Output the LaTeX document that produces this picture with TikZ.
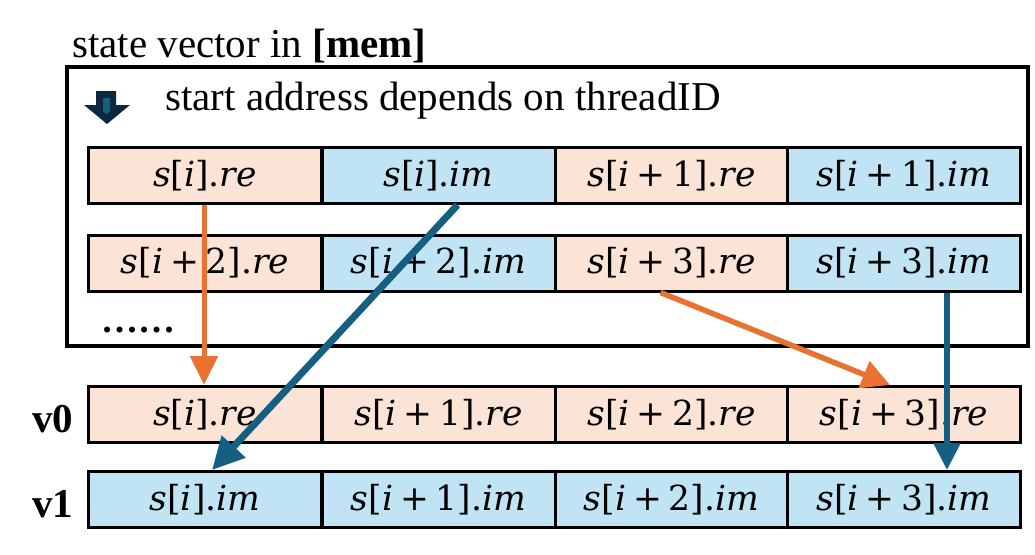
\documentclass[tikz,border=0pt]{standalone}
\usepackage{fontspec}
\setmainfont{Liberation Serif}
\newfontfamily\cellfont{DejaVu Serif}
\usetikzlibrary{arrows.meta,calc}
\definecolor{peach}{HTML}{FBE3D6}
\definecolor{lblue}{HTML}{C1E4F5}
\definecolor{dblue}{HTML}{156082}
\definecolor{orng}{HTML}{E97132}
\definecolor{navy}{HTML}{0E2841}
\newcommand{\pls}[1]{\hspace{0.2em}+\hspace{0.2em}#1}
\newcommand{\sv}[2]{\textit{s}[\textit{i}#1].\textit{#2}}
\begin{document}
\begin{tikzpicture}[x=1pt,y=-1pt,
  cellbox/.style={draw=black, line width=3pt, minimum width=233pt, minimum height=56pt,
    inner sep=0pt, font=\cellfont\fontsize{34.5}{40}\selectfont, anchor=center},
  rebox/.style={cellbox, fill=peach},
  imbox/.style={cellbox, fill=lblue},
  lbl/.style={font=\fontsize{41}{48}\selectfont, inner sep=0pt, anchor=base west},
  boldlbl/.style={lbl, font=\bfseries\fontsize{41}{48}\selectfont},
  orarrow/.style={orng, line width=5pt},
  blarrow/.style={dblue, line width=5.5pt}]
\useasboundingbox (0,0) rectangle (1035,554);

\node[lbl] (title) at (72,57) {state vector in \textbf{[mem]}};
\draw[line width=3.5pt] (67,67) rectangle (1028,346);
% icon
\fill[navy] (96,91)--(116,91)--(116,105)--(130,105)--(107,124)--(84,105)--(96,105)--cycle;
\fill[dblue] (103,98)--(110,98)--(110,111)--(106.5,114)--(103,111)--cycle;
\node[lbl] (start) at (165,110) {start address depends on threadID};

% memory rows
\node[rebox] (r1c1) at (205,175.5) {\sv{}{re}};
\node[imbox] (r1c2) at (438.5,175.5) {\sv{}{im}};
\node[rebox] (r1c3) at (671.5,175.5) {\sv{\pls{1}}{re}};
\node[imbox] (r1c4) at (904,175.5) {\sv{\pls{1}}{im}};
\node[rebox] (r2c1) at (205,263) {\sv{\pls{2}}{re}};
\node[imbox] (r2c2) at (438.5,263) {\sv{\pls{2}}{im}};
\node[rebox] (r2c3) at (671.5,263) {\sv{\pls{3}}{re}};
\node[imbox] (r2c4) at (904,263) {\sv{\pls{3}}{im}};
\node[boldlbl, font=\bfseries\fontsize{37}{44}\selectfont] (dots) at (101,332) {……};

% registers
\node[boldlbl] (v0) at (32,432) {v0};
\node[boldlbl] (v1) at (32,517) {v1};
\node[rebox] (v0c1) at (205,414.5) {\sv{}{re}};
\node[rebox] (v0c2) at (438.5,414.5) {\sv{\pls{1}}{re}};
\node[rebox] (v0c3) at (671.5,414.5) {\sv{\pls{2}}{re}};
\node[rebox] (v0c4) at (904,414.5) {\sv{\pls{3}}{re}};
\node[imbox] (v1c1) at (205,499.5) {\sv{}{im}};
\node[imbox] (v1c2) at (438.5,499.5) {\sv{\pls{1}}{im}};
\node[imbox] (v1c3) at (671.5,499.5) {\sv{\pls{2}}{im}};
\node[imbox] (v1c4) at (904,499.5) {\sv{\pls{3}}{im}};

% arrows
\draw[orarrow, -{Triangle[width=27pt,length=29pt]}] ($(r1c1.south)+(-1,0)$) -- ($(v0c1.north)+(-1,0)$);
\draw[blarrow, line width=7pt, -{Triangle[width=31pt,length=32pt]}] ($(r1c2.south)+(19,0)$) -- ($(v1c1.north)+(7,0)$);
\draw[orarrow, line width=5.5pt, -{Triangle[width=28pt,length=28pt]}] ($(r2c3.south)+(-11,0)$) -- ($(v0c4.north)+(-14,0)$);
\draw[blarrow, -{Triangle[width=26pt,length=27pt]}] ($(r2c4.south)+(43,0)$) -- ($(v1c4.north)+(43,0)$);
\end{tikzpicture}
\end{document}
